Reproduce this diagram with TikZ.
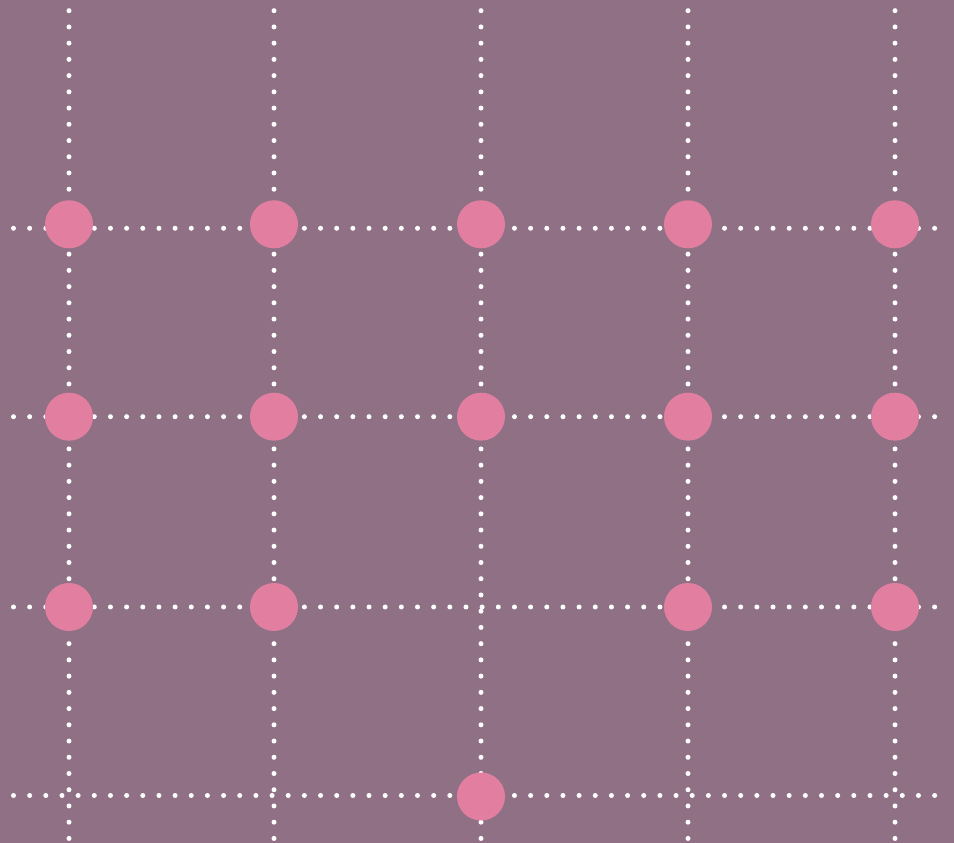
\documentclass[tikz,border=0pt]{standalone}
\definecolor{mauve}{RGB}{143,112,133}
\definecolor{rose}{RGB}{226,127,161}
\begin{document}
\begin{tikzpicture}[x=1pt,y=1pt,line width=5pt,
  gridv/.style={white,line cap=round,dash pattern=on 0pt off 16.23pt},
  gridh/.style={white,line cap=round,dash pattern=on 0pt off 16.16pt},
  knot/.style={circle,fill=rose,minimum size=48pt,inner sep=0pt}]
  \useasboundingbox (0,0) rectangle (954,843);
  \fill[mauve] (0,0) rectangle (954,843);
  \foreach \x in {69,274,481,688,895}{
    \draw[gridv] (\x,832.3) -- (\x,0);}
  \foreach \y in {614.7,426.3,236,47.5}{
    \draw[gridh] (13.5,\y) -- (940,\y);}
  \foreach \x [count=\i] in {69,274,481,688,895}{
    \node[knot] (a\i) at (\x,618.7) {};
    \node[knot] (b\i) at (\x,426.3) {};}
  \node[knot] (c1) at (69,236) {};
  \node[knot] (c2) at (274,236) {};
  \node[knot] (c4) at (688,236) {};
  \node[knot] (c5) at (895,236) {};
  \node[knot] (d3) at (481,46.5) {};
\end{tikzpicture}
\end{document}
